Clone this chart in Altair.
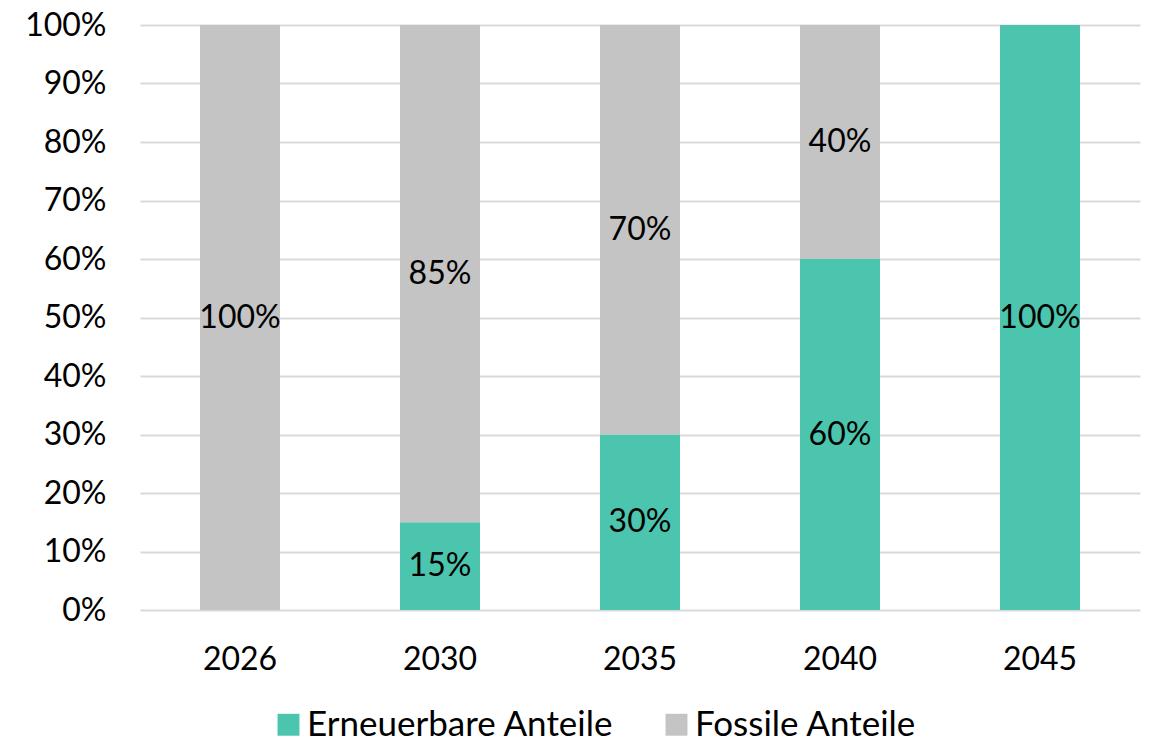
import altair as alt
import pandas as pd

years = ["2026", "2030", "2035", "2040", "2045"]
erneuerbar = [0.00, 0.15, 0.30, 0.60, 1.00]
fossil = [1.00, 0.85, 0.70, 0.40, 0.00]
series = ["Erneuerbare Anteile", "Fossile Anteile"]
colors = ["#4BC5AD", "#C4C4C4"]

rows = []
for i, y in enumerate(years):
    rows.append({"year": y, "series": series[0], "value": erneuerbar[i], "ord": 0})
    rows.append({"year": y, "series": series[1], "value": fossil[i], "ord": 1})
df = pd.DataFrame(rows)

FONT = "Lato"
FS = 32

x = alt.X("year:N", title=None, sort=years,
          scale=alt.Scale(paddingInner=0.6, paddingOuter=0.3),
          axis=alt.Axis(labelAngle=0, labelFontSize=FS, labelFont=FONT, labelColor="black",
                        ticks=False, domain=False, grid=False, labelPadding=34))

base = alt.Chart(df)

bars = base.mark_bar().encode(
    x=x,
    y=alt.Y("value:Q", title=None, stack="zero",
            scale=alt.Scale(domain=[0, 1], nice=False),
            axis=alt.Axis(format="%", values=[i / 10 for i in range(11)], labelFontSize=FS,
                          labelFont=FONT, labelColor="black", ticks=False, domain=False,
                          gridColor="#D9D9D9", gridWidth=2, labelPadding=34)),
    color=alt.Color("series:N", sort=series,
                    scale=alt.Scale(domain=series, range=colors),
                    legend=alt.Legend(title=None, orient="none", direction="horizontal",
                                      legendX=131, legendY=682, symbolType="square",
                                      symbolSize=480, symbolStrokeWidth=0, symbolOpacity=1,
                                      labelFontSize=35, labelFont=FONT, labelColor="black",
                                      labelOffset=1, columnPadding=45, labelLimit=400)),
    order=alt.Order("ord:Q", sort="ascending"),
)

labels = base.transform_stack(
    stack="value", groupby=["year"], as_=["v0", "v1"], sort=[alt.SortField("ord", order="ascending")]
).transform_calculate(
    mid="(datum.v0 + datum.v1) / 2"
).transform_filter(
    "datum.value > 0"
).mark_text(font=FONT, fontSize=FS, color="black", baseline="middle").encode(
    x=alt.X("year:N", sort=years),
    y=alt.Y("mid:Q"),
    text=alt.Text("value:Q", format=".0%"),
)

chart = alt.layer(bars, labels).properties(
    width=1000, height=585,
    autosize=alt.AutoSizeParams(type="none"),
    padding={"left": 132, "top": 17, "right": 2, "bottom": 160},
).configure(background="white", view=alt.ViewConfig(stroke=None))

chart.save("out.html", embed_options={"renderer": "svg", "actions": False})
